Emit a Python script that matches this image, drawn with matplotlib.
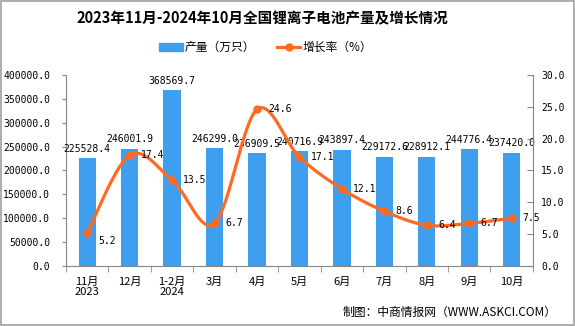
import numpy as np
import matplotlib.pyplot as plt
from matplotlib.patches import Rectangle
from matplotlib.lines import Line2D

plt.rcParams['font.family'] = ['DejaVu Sans Mono', 'Noto Sans CJK SC']

# data
months = ['11月\n2023', '12月', '1-2月\n2024', '3月', '4月', '5月',
          '6月', '7月', '8月', '9月', '10月']
output = [225528.4, 246001.9, 368569.7, 246299.0, 236909.5, 240716.9,
          243897.4, 229172.6, 228912.1, 244776.4, 237420.0]
growth = [5.2, 17.4, 13.5, 6.7, 24.6, 17.1, 12.1, 8.6, 6.4, 6.7, 7.5]

bar_color = '#3F9FEF'
line_color = '#FF6A21'
axis_gray = '#868686'
cjk = ['Noto Sans CJK SC', 'DejaVu Sans']


def smooth(xs, ys, n=30):
    # excel-like smoothed line (catmull-rom as cubic bezier)
    xs = np.asarray(xs, float)
    ys = np.asarray(ys, float)
    px = np.concatenate([[xs[0]], xs, [xs[-1]]])
    py = np.concatenate([[ys[0]], ys, [ys[-1]]])
    out_x, out_y = [], []
    t = np.linspace(0, 1, n)
    for i in range(1, len(px) - 2):
        p0 = np.array([px[i], py[i]])
        p3 = np.array([px[i + 1], py[i + 1]])
        c1 = p0 + (np.array([px[i + 1], py[i + 1]]) - np.array([px[i - 1], py[i - 1]])) / 6
        c2 = p3 - (np.array([px[i + 2], py[i + 2]]) - np.array([px[i], py[i]])) / 6
        b = ((1 - t) ** 3)[:, None] * p0 + (3 * (1 - t) ** 2 * t)[:, None] * c1 \
            + (3 * (1 - t) * t ** 2)[:, None] * c2 + (t ** 3)[:, None] * p3
        out_x.extend(b[:, 0])
        out_y.extend(b[:, 1])
    return np.array(out_x), np.array(out_y)


fig = plt.figure(figsize=(5.75, 3.26), dpi=100)
fig.patches.append(Rectangle((0.001, 0.002), 0.997, 0.996, transform=fig.transFigure,
                             fill=False, edgecolor='#A0A0A0', linewidth=1.2))
ax = fig.add_axes([0.1148, 0.184, 0.812, 0.586])
ax2 = ax.twinx()

x = np.arange(len(months))
ax.bar(x, output, width=0.41, color=bar_color, zorder=2)
ax.set_xlim(-0.5, len(months) - 0.5)
ax.set_ylim(0, 400000)
ax.set_yticks(np.arange(0, 400001, 50000))
ax.set_yticklabels([f'{v:.1f}' for v in np.arange(0, 400001, 50000)], fontsize=7)

ax.set_xticks(x)
ax.set_xticklabels(months, fontsize=8, family=cjk, linespacing=0.95)
ax.tick_params(axis='x', length=0, pad=8)
ax.set_xticks(np.arange(-0.5, len(months), 1), minor=True)
ax.tick_params(axis='x', which='minor', length=4, color=axis_gray)
ax.tick_params(axis='y', length=3, color=axis_gray, pad=8.5)

for i, v in enumerate(output):
    ax.text(i, v + 9000, f'{v:.1f}', ha='center', va='bottom', fontsize=7)

sx, sy = smooth(x, growth)
ax2.plot(sx, sy, color=line_color, linewidth=2.3, zorder=3)
ax2.plot(x, growth, 'o', color=line_color, markersize=5, zorder=4)
ax2.set_ylim(0, 30)
ax2.set_yticks(np.arange(0, 31, 5))
ax2.set_yticklabels([f'{v:.1f}' for v in np.arange(0, 31, 5)], fontsize=7)
ax2.tick_params(axis='y', length=4, color=axis_gray, direction='in', pad=6)

for i, g in enumerate(growth):
    dy = -1.2 if i == 0 else 0
    ax2.annotate(f'{g}', (i, g + dy), xytext=(8, 0), textcoords='offset points',
                 ha='left', va='center', fontsize=7)

for a in (ax, ax2):
    a.spines['top'].set_visible(False)
    for s in ('left', 'right', 'bottom'):
        a.spines[s].set_color(axis_gray)
ax.spines['right'].set_visible(False)
ax2.spines['left'].set_visible(False)
ax2.spines['bottom'].set_visible(False)

fig.text(0.457, 0.945, '2023年11月-2024年10月全国锂离子电池产量及增长情况',
         ha='center', va='center', fontsize=10.5, fontweight='bold', family=cjk)

handles = [Rectangle((0, 0), 1, 1, color=bar_color),
           Line2D([], [], color=line_color, linewidth=2.3, marker='o', markersize=5)]
fig.legend(handles, ['产量（万只）', '增长率（%）'], loc='center', ncol=2,
           bbox_to_anchor=(0.462, 0.855), frameon=False, handlelength=2.0,
           handletextpad=0.2, columnspacing=1.8, prop={'family': cjk, 'size': 8.5})

fig.text(0.968, 0.043, '制图：中商情报网（WWW.ASKCI.COM）', ha='right', va='center',
         fontsize=8.5, family=cjk)

fig.savefig('out.png', dpi=100)
